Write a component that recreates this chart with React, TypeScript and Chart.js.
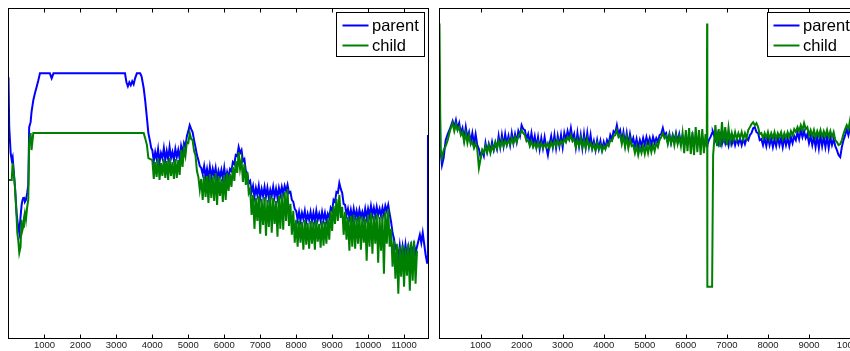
import React, { useEffect, useRef } from "react";
import { Chart, registerables } from "chart.js";
Chart.register(...registerables);

// ---------- data (y in arbitrary units) ----------
// Left panel, irregular start (explicit x)
const leftEarlyX = [
  0, 20, 60, 90, 115, 150, 180, 225, 245, 270, 300, 335, 365, 390, 410, 430, 455, 485, 520, 550,
  575, 615, 640, 690, 735, 780, 830, 875, 1150, 1200, 1250, 3240, 3280, 3320, 3360, 3400, 3440, 3480,
  3520, 3570, 3660, 3700, 3760, 3800, 3850, 3890, 3940, 3970,
];
const leftEarlyParent = [
  262, 212, 186, 179, 182, 166, 152, 126, 119, 112, 106, 122, 134, 139, 141, 142, 137, 139, 146, 154,
  212, 217, 227, 239, 246, 252, 259, 266, 266, 261, 266, 266, 257, 253, 257, 254, 258, 255,
  261, 266, 266, 263, 251, 239, 221, 206, 197, 191,
];
const leftEarlyChild = [
  159, 159, 159, 159, 176, 164, 152, 122, 106, 99, 86, 92, 119, 109, 112, 121, 126, 119, 132, 139,
  196, 206, 189, 206, 206, 206, 206, 206, 206, 206, 206, 206, 206, 206, 206, 206, 206, 206,
  206, 206, 206, 206, 206, 201, 194, 181,
];
// Left panel, sampled every 40 from x = 4000
const leftSampleStart = 4000;
const sampleStep = 40;
const leftSampledParent = [
  189, 178, 187, 180, 190, 177, 186, 181, 191, 179,
  188, 180, 192, 181, 187, 179, 190, 182, 189, 180,
  193, 186, 196, 192, 203, 208, 214, 210, 207, 199,
  192, 184, 179, 173, 171, 165, 173, 162, 170, 160,
  172, 161, 170, 163, 171, 159, 168, 162, 169, 160,
  171, 159, 167, 161, 170, 168, 177, 175, 184, 183,
  192, 186, 189, 178, 180, 168, 166, 156, 158, 147,
  153, 142, 151, 144, 153, 141, 150, 143, 152, 142,
  151, 141, 149, 143, 152, 142, 150, 141, 151, 144,
  152, 145, 153, 148, 154, 146, 147, 139, 137, 130,
  128, 119, 127, 118, 126, 120, 128, 117, 125, 119,
  127, 118, 126, 117, 128, 119, 125, 118, 127, 119,
  126, 118, 125, 121, 131, 128, 139, 137, 147, 146,
  156, 150, 146, 135, 134, 124, 130, 121, 129, 120,
  130, 121, 128, 120, 129, 122, 127, 120, 130, 121,
  130, 123, 133, 124, 131, 123, 132, 124, 130, 123,
  131, 124, 133, 128, 134, 125, 117, 106, 100, 90,
  91, 80, 93, 79, 92, 81, 94, 82, 92, 84,
  93, 85, 94, 86, 92, 98, 104, 96, 106, 95,
  84,
];
const leftSampledChild = [
  179, 160, 177, 162, 181, 159, 176, 163, 180, 161,
  178, 159, 181, 163, 177, 160, 180, 161, 179, 164,
  189, 172, 190, 183, 197, 196, 206, 200, 199, 188,
  184, 168, 162, 149, 160, 139, 164, 142, 163, 136,
  165, 141, 162, 138, 166, 134, 163, 143, 160, 137,
  164, 139, 166, 148, 165, 152, 172, 158, 178, 166,
  187, 170, 179, 157, 175, 154, 167, 146, 150, 124,
  144, 110, 141, 118, 143, 105, 140, 114, 142, 103,
  139, 112, 144, 106, 141, 115, 138, 102, 143, 110,
  145, 109, 147, 118, 150, 113, 135, 104, 128, 96,
  119, 92, 118, 96, 117, 89, 119, 94, 116, 90,
  118, 95, 117, 89, 119, 97, 115, 91, 118, 93,
  117, 95, 120, 99, 128, 108, 133, 115, 140, 118,
  144, 121, 132, 104, 127, 99, 122, 88, 123, 92,
  124, 90, 121, 95, 123, 89, 122, 96, 120, 78,
  124, 92, 126, 85, 123, 95, 125, 76, 122, 88,
  124, 65, 127, 95, 130, 92, 110, 72, 98, 60,
  95, 45, 92, 62, 94, 52, 91, 63, 95, 48,
  97, 58, 98, 55, 88,
];
// Left panel, parent tail (explicit x)
const leftTailX = [11640, 11665];
const leftTailParent = [76, 204];

// Right panel, irregular start (explicit x)
const rightEarlyX = [0, 25, 60, 100, 150, 200, 260];
const rightEarlyParent = [259, 189, 174, 181, 199, 205, 211];
const rightEarlyChild = [316, 189, 181, 189, 193, 199, 209];
// Right panel, sampled every 40 from x = 320
const rightSampleStartA = 320;
const rightSampledParentA = [
  218, 212, 219, 210, 216, 206, 211, 200, 212, 201,
  207, 197, 206, 195, 205, 194, 190, 182, 188, 183,
  196, 187, 195, 188, 197, 189, 196, 190, 203, 192,
  204, 193, 205, 195, 203, 194, 206, 196, 205, 197,
  208, 203, 214, 210, 209, 200, 205, 196, 206, 195,
  203, 192, 202, 190, 201, 191, 202, 192, 184, 195,
  203, 192, 204, 191, 203, 193, 204, 192, 206, 199,
  208, 201, 211, 200, 205, 192, 206, 193, 204, 191,
  205, 192, 206, 193, 204, 191, 198, 189, 199, 190,
  198, 189, 197, 191, 199, 195, 204, 200, 208, 206,
  214, 205, 209, 198, 207, 195, 206, 194, 205, 196,
  201, 192, 200, 191, 199, 193, 201, 194, 202, 195,
  201, 194, 202, 196, 201, 197, 204, 205, 211, 204,
  206, 197, 205, 196, 204, 198, 206, 197, 205, 196,
  203, 194, 204, 195, 203, 196, 204, 194, 202, 195,
  203, 194, 202, 195, 197,
];
const rightSampledChildA = [
  216, 208, 215, 209, 212, 204, 207, 197, 206, 196,
  204, 195, 197, 191, 196, 190, 171, 180, 189, 186,
  193, 187, 194, 186, 193, 189, 197, 191, 198, 192,
  199, 193, 198, 194, 199, 195, 201, 196, 202, 197,
  203, 205, 209, 206, 204, 198, 199, 193, 198, 192,
  196, 191, 197, 192, 196, 191, 195, 192, 196, 191,
  197, 192, 198, 193, 199, 194, 198, 195, 200, 197,
  202, 199, 204, 198, 200, 192, 199, 193, 201, 192,
  199, 191, 200, 192, 196, 190, 195, 189, 196, 190,
  194, 188, 193, 190, 195, 193, 199, 198, 203, 204,
  209, 202, 204, 195, 203, 192, 202, 191, 200, 193,
  194, 186, 193, 184, 192, 186, 193, 185, 194, 186,
  195, 187, 194, 188, 196, 192, 199, 202, 206, 201,
  203, 195, 204, 196, 203, 194, 204, 195, 202, 193,
  206, 186, 209, 188, 211, 185, 207, 184, 212, 187,
  209, 184, 210, 186, 205,
];
// Right panel, around the child's glitch (explicit x)
const rightSpikeX = [6510, 6518, 6524, 6560, 6600, 6640, 6655, 6665];
const rightSpikeParent = [195, 193, 194, 199, 202, 206, 208, 207];
const rightSpikeChild = [192, 316, 52, 52, 52, 52, 52, 184];
// Right panel, sampled every 40 from x = 6720
const rightSampleStartB = 6720;
const rightSampledParentB = [
  199, 205, 196, 204, 195, 203, 196, 204, 194, 202,
  195, 201, 194, 200, 195, 201, 194, 200, 195, 201,
  199, 204, 206, 211, 212, 207, 206, 199, 200, 194,
  201, 193, 202, 194, 201, 192, 200, 193, 202, 194,
  201, 192, 202, 194, 201, 193, 202, 196, 203, 199,
  207, 200, 209, 202, 208, 201, 205, 196, 203, 194,
  202, 192, 203, 191, 204, 193, 202, 192, 203, 191,
  202, 194, 200, 193, 189, 184, 182, 192, 199, 204,
  210, 204, 211, 205, 209, 203, 208, 204, 207,
];
const rightSampledChildB = [
  214, 193, 210, 192, 217, 196, 212, 194, 211, 197,
  206, 199, 207, 200, 206, 201, 207, 200, 206, 201,
  209, 212, 215, 217, 214, 216, 212, 205, 206, 201,
  206, 201, 207, 200, 206, 201, 207, 200, 206, 202,
  207, 200, 206, 201, 207, 202, 208, 204, 210, 207,
  212, 208, 214, 209, 216, 210, 212, 204, 209, 203,
  209, 202, 208, 203, 209, 202, 208, 203, 209, 202,
  208, 202, 207, 199, 197, 194, 195, 199, 205, 210,
  214, 210, 219, 212, 214, 209, 214, 210, 212,
];

const leftTicks = [1000, 2000, 3000, 4000, 5000, 6000, 7000, 8000, 9000, 10000, 11000];
const rightTicks = [1000, 2000, 3000, 4000, 5000, 6000, 7000, 8000, 9000, 10000];
const seriesLabels = ["parent", "child"];

const LEFT_XMAX = 11680;
const RIGHT_XMAX = 10230;
const Y_MAX = 331;

const FONT = "'Liberation Sans', Arial, Helvetica, sans-serif";
const PARENT_COLOR = "#0000ff";
const CHILD_COLOR = "#008000";

type Pt = { x: number; y: number };
const explicit = (xs: number[], ys: number[]): Pt[] => ys.map((y, i) => ({ x: xs[i], y }));
const sampled = (start: number, ys: number[]): Pt[] =>
  ys.map((y, i) => ({ x: start + i * sampleStep, y }));

const leftParentPts = [
  ...explicit(leftEarlyX, leftEarlyParent),
  ...sampled(leftSampleStart, leftSampledParent),
  ...explicit(leftTailX, leftTailParent),
];
const leftChildPts = [
  ...explicit(leftEarlyX, leftEarlyChild),
  ...sampled(leftSampleStart, leftSampledChild),
];
const rightParentPts = [
  ...explicit(rightEarlyX, rightEarlyParent),
  ...sampled(rightSampleStartA, rightSampledParentA),
  ...explicit(rightSpikeX, rightSpikeParent),
  ...sampled(rightSampleStartB, rightSampledParentB),
];
const rightChildPts = [
  ...explicit(rightEarlyX, rightEarlyChild),
  ...sampled(rightSampleStartA, rightSampledChildA),
  ...explicit(rightSpikeX, rightSpikeChild),
  ...sampled(rightSampleStartB, rightSampledChildB),
];

// frame, inward ticks and boxed legend (matlab look)
const framePlugin = {
  id: "matFrame",
  afterDatasetsDraw(chart: any) {
    const { ctx, chartArea: a, scales } = chart;
    const xs = scales.x;
    ctx.save();
    ctx.strokeStyle = "#000";
    ctx.lineWidth = 1;
    ctx.beginPath();
    xs.ticks.forEach((t: any) => {
      const px = Math.round(xs.getPixelForValue(t.value)) + 0.5;
      ctx.moveTo(px, a.bottom);
      ctx.lineTo(px, a.bottom - 4);
      ctx.moveTo(px, a.top);
      ctx.lineTo(px, a.top + 4);
    });
    ctx.stroke();
    ctx.strokeRect(a.left, a.top, a.right - a.left, a.bottom - a.top);

    // legend box
    const bw = 88;
    const bh = 44;
    const bx = Math.round(a.right - 92.5) + 0.5;
    const by = Math.round(a.top + 3.5) + 0.5;
    ctx.fillStyle = "#fff";
    ctx.fillRect(bx, by, bw, bh);
    ctx.strokeRect(bx, by, bw, bh);
    ctx.font = `16.5px ${FONT}`;
    ctx.textBaseline = "middle";
    ctx.textAlign = "left";
    [0, 1].forEach((i, row) => {
      const ds = chart.data.datasets[i];
      const cy = by + 13 + row * 20;
      ctx.strokeStyle = ds.borderColor;
      ctx.lineWidth = 2;
      ctx.beginPath();
      ctx.moveTo(bx + 6, cy);
      ctx.lineTo(bx + 32, cy);
      ctx.stroke();
      ctx.fillStyle = "#000";
      ctx.fillText(ds.label, bx + 35.5, cy + 1);
    });
    ctx.restore();
  },
};

function makeConfig(
  parent: Pt[],
  child: Pt[],
  ticks: number[],
  xMax: number,
  padding: { left: number; right: number; top: number; bottom: number }
): any {
  return {
    type: "line",
    data: {
      datasets: [
        {
          label: seriesLabels[0],
          data: parent,
          borderColor: PARENT_COLOR,
          borderWidth: 2,
          pointRadius: 0,
          tension: 0,
          order: 2,
        },
        {
          label: seriesLabels[1],
          data: child,
          borderColor: CHILD_COLOR,
          borderWidth: 2,
          pointRadius: 0,
          tension: 0,
          order: 1,
        },
      ],
    },
    options: {
      animation: false,
      responsive: false,
      devicePixelRatio: 1,
      layout: { padding },
      plugins: { legend: { display: false }, tooltip: { enabled: false } },
      events: [],
      scales: {
        x: {
          type: "linear",
          min: 0,
          max: xMax,
          grid: { display: false, drawTicks: false },
          border: { display: false },
          afterBuildTicks: (axis: any) => {
            axis.ticks = ticks.map((v) => ({ value: v }));
          },
          afterFit: (axis: any) => {
            axis.height = 12.5;
          },
          ticks: {
            autoSkip: false,
            maxRotation: 0,
            padding: 1,
            color: "#222",
            font: { family: FONT, size: 9.5 },
            callback: (v: any) => String(v),
          },
        },
        y: {
          display: false,
          min: 0,
          max: Y_MAX,
        },
      },
    },
    plugins: [framePlugin],
  };
}

export default function App() {
  const leftRef = useRef<HTMLCanvasElement>(null);
  const rightRef = useRef<HTMLCanvasElement>(null);

  useEffect(() => {
    const l = new Chart(
      leftRef.current as HTMLCanvasElement,
      makeConfig(leftParentPts, leftChildPts, leftTicks, LEFT_XMAX, { left: 8.5, right: 3.5, top: 8.5, bottom: 0 })
    );
    const r = new Chart(
      rightRef.current as HTMLCanvasElement,
      makeConfig(rightParentPts, rightChildPts, rightTicks, RIGHT_XMAX, { left: 7.5, right: 12.5, top: 8.5, bottom: 0 })
    );
    return () => {
      l.destroy();
      r.destroy();
    };
  }, []);

  return (
    <div
      style={{
        position: "fixed",
        left: 0,
        top: 0,
        width: 850,
        height: 351,
        overflow: "hidden",
        background: "#fff",
      }}
    >
      <canvas
        ref={leftRef}
        width={432}
        height={351}
        style={{ position: "absolute", left: 0, top: 0, width: 432, height: 351 }}
      />
      <canvas
        ref={rightRef}
        width={440}
        height={351}
        style={{ position: "absolute", left: 432, top: 0, width: 440, height: 351 }}
      />
    </div>
  );
}
